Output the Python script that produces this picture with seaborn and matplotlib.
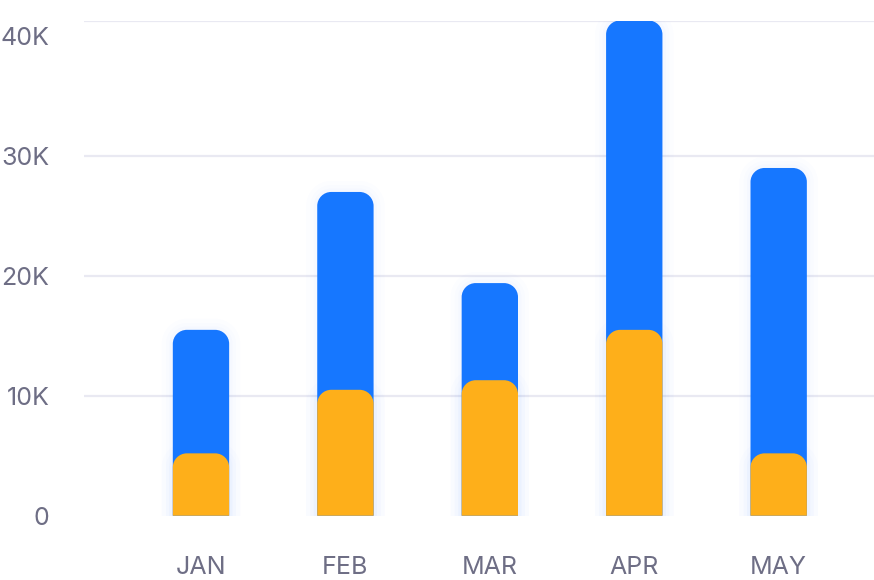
import matplotlib
matplotlib.use("Agg")
import matplotlib.pyplot as plt
import matplotlib.patheffects as pe
from matplotlib.patches import PathPatch
from matplotlib.path import Path
import seaborn as sns
import pandas as pd

months = ["JAN", "FEB", "MAR", "APR", "MAY"]
total_values = [15500, 27000, 19400, 41300, 29000]
part_values = [5200, 10500, 11300, 15500, 5200]
ytick_values = [0, 10000, 20000, 30000, 40000]
ytick_labels = ["0", "10K", "20K", "30K", "40K"]
grid_values = [10000, 20000, 30000]

BLUE = "#1677FF"
ORANGE = "#FEAF1A"
TEXT = "#6E6E85"
GRID = "#E9E9F2"

sns.set_theme(style="white")
plt.rcParams["font.family"] = ["Inter", "DejaVu Sans"]

W, H, DPI = 874, 580, 100
fig = plt.figure(figsize=(W / DPI, H / DPI), dpi=DPI)
ax_left, ax_right = 84, 874
ax_top, ax_bottom = 20.5, 515.7
ax = fig.add_axes([ax_left / W, 1 - ax_bottom / H, (ax_right - ax_left) / W, (ax_bottom - ax_top) / H])

df = pd.DataFrame({"month": months, "total": total_values, "part": part_values})
bar_w = 0.39
sns.barplot(data=df, x="month", y="total", color=BLUE, width=bar_w, ax=ax, saturation=1)
sns.barplot(data=df, x="month", y="part", color=ORANGE, width=bar_w, ax=ax, saturation=1)

ymax = max(total_values)
ax.set_ylim(0, ymax)
ax.set_xlim(-0.81, 4.66)

for g in grid_values + [ymax]:
    ax.axhline(g, color=GRID, lw=1.6, zorder=0)

# replace rectangles with rounded-top bars (circular corners)
pxx = (ax_right - ax_left) / (ax.get_xlim()[1] - ax.get_xlim()[0])
pxy = (ax_bottom - ax_top) / (ax.get_ylim()[1] - ax.get_ylim()[0])
radius_px = 14
rx = radius_px / pxx
ry = radius_px / pxy
k = 0.5523


def top_rounded(x0, y0, w, h):
    x1, y1 = x0 + w, y0 + h
    verts = [
        (x0, y0),
        (x0, y1 - ry),
        (x0, y1 - ry + k * ry), (x0 + rx - k * rx, y1), (x0 + rx, y1),
        (x1 - rx, y1),
        (x1 - rx + k * rx, y1), (x1, y1 - ry + k * ry), (x1, y1 - ry),
        (x1, y0),
        (x0, y0),
    ]
    codes = [Path.MOVETO, Path.LINETO,
             Path.CURVE4, Path.CURVE4, Path.CURVE4,
             Path.LINETO,
             Path.CURVE4, Path.CURVE4, Path.CURVE4,
             Path.LINETO, Path.CLOSEPOLY]
    return Path(verts, codes)


rects = list(ax.patches)
for rect in rects:
    x0, y0 = rect.get_x(), rect.get_y()
    w, h = rect.get_width(), rect.get_height()
    fc = rect.get_facecolor()
    rect.remove()
    patch = PathPatch(top_rounded(x0, y0, w, h), facecolor=fc, edgecolor="none", zorder=2)
    patch.set_path_effects([
        pe.Stroke(linewidth=16, foreground="#1677FF", alpha=0.010),
        pe.Stroke(linewidth=10, foreground="#1677FF", alpha=0.012),
        pe.Stroke(linewidth=5, foreground="#1677FF", alpha=0.015),
        pe.Normal(),
    ])
    ax.add_patch(patch)

ax.set_yticks(ytick_values)
ax.set_yticklabels(ytick_labels)
ax.set_xlabel("")
ax.set_ylabel("")
ax.grid(False)
for s in ax.spines.values():
    s.set_visible(False)
ax.tick_params(axis="y", length=0, pad=25, labelsize=18, labelcolor=TEXT)
ax.tick_params(axis="x", length=0, pad=29, labelsize=18, labelcolor=TEXT)

fig.savefig("out.png", dpi=DPI)
